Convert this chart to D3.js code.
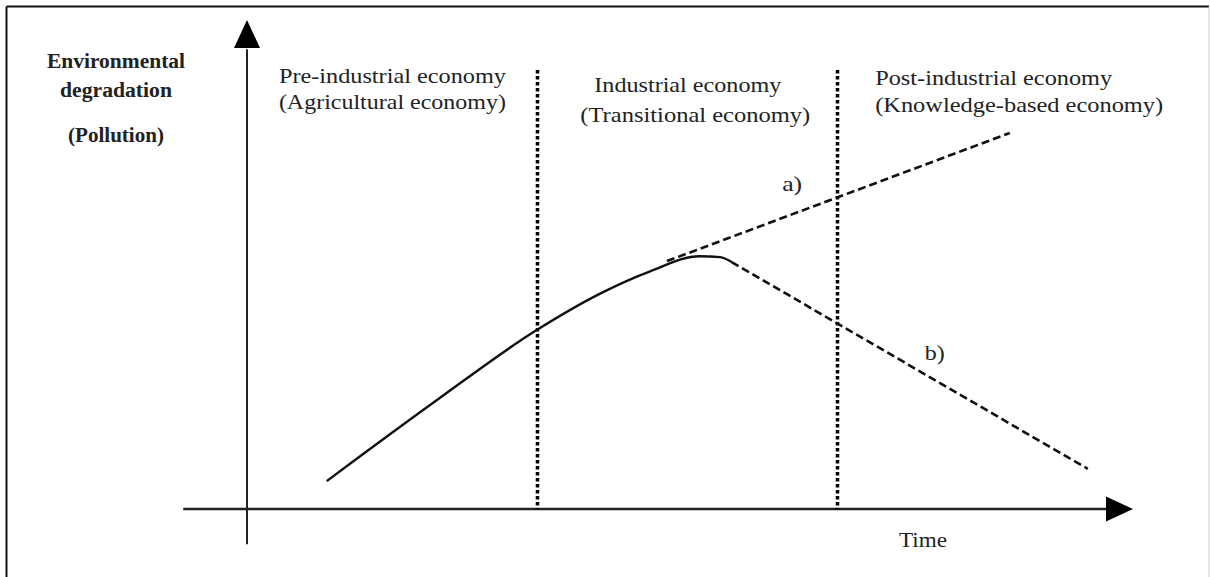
<!DOCTYPE html>
<html>
<head>
<meta charset="utf-8">
<script src="https://cdn.jsdelivr.net/npm/d3@7"></script>
<style>
  body { margin: 0; background: #fff; }
  svg { display: block; }
</style>
</head>
<body>
<svg id="chart" width="1210" height="577"></svg>
<script>
// time (x) and pollution (y) in arbitrary units, 0..10 on both axes
const mainCurve = [
  [0.90, 0.57], [2.07, 2.13], [3.27, 3.66], [3.98, 4.40],
  [4.55, 4.86], [5.11, 5.17], [5.34, 5.15], [5.47, 5.05]
]
const pathA = [[4.74, 5.07], [8.61, 7.69]]
const pathB = [[5.47, 5.05], [9.49, 0.82]]
const phaseBreaks = [3.27, 6.66]
const phaseTop = 8.98

const yLabelLines = ["Environmental", "degradation", "(Pollution)"]
const phaseLabels = [
  { t: 0.36, lines: ["Pre-industrial economy", "(Agricultural economy)"], dx: [0, 0], w: [227, 227] },
  { t: 3.92, lines: ["Industrial economy", "(Transitional economy)"], dx: [0, -14], w: [187, 230] },
  { t: 7.09, lines: ["Post-industrial economy", "(Knowledge-based economy)"], dx: [0, 0], w: [237, 288] }
]
const branchLabels = [
  { name: "a)", t: 6.04, p: 6.50 },
  { name: "b)", t: 7.65, p: 3.05 }
]

const serif = "'Liberation Serif', 'Times New Roman', Tinos, serif"

const svg = d3.select("#chart")

const x = d3.scaleLinear().domain([0, 10]).range([247, 1133])
const y = d3.scaleLinear().domain([0, 10]).range([509, 20])

// frame
svg.append("line").attr("x1", 6.5).attr("y1", 6.5).attr("x2", 6.5).attr("y2", 577)
    .attr("stroke", "#111").attr("stroke-width", 2)
svg.append("line").attr("x1", 6.5).attr("y1", 6.5).attr("x2", 1209).attr("y2", 6.5)
    .attr("stroke", "#111").attr("stroke-width", 2)
svg.append("line").attr("x1", 1209).attr("y1", 6.5).attr("x2", 1209).attr("y2", 577)
    .attr("stroke", "#ccc").attr("stroke-width", 1)

// axes
svg.append("line")
    .attr("x1", x(0)).attr("y1", y(-0.72))
    .attr("x2", x(0)).attr("y2", y(9.4))
    .attr("stroke", "#222").attr("stroke-width", 2)
svg.append("path")
    .attr("d", `M${x(0)},${y(10)} L${x(0) - 13},${y(10) + 28} L${x(0) + 13},${y(10) + 28} Z`)
    .attr("fill", "#000")

svg.append("line")
    .attr("x1", x(-0.72)).attr("y1", y(0))
    .attr("x2", x(9.75)).attr("y2", y(0))
    .attr("stroke", "#222").attr("stroke-width", 2.6)
svg.append("path")
    .attr("d", `M${x(10)},${y(0)} L${x(10) - 27},${y(0) - 12.5} L${x(10) - 27},${y(0) + 12.5} Z`)
    .attr("fill", "#000")

// phase separators
svg.selectAll(".phase-break")
    .data(phaseBreaks)
    .join("line")
    .attr("class", "phase-break")
    .attr("x1", d => Math.round(x(d)) + 0.5).attr("x2", d => Math.round(x(d)) + 0.5)
    .attr("y1", y(phaseTop)).attr("y2", y(0))
    .attr("stroke", "#000")
    .attr("stroke-width", 3.5)
    .attr("stroke-dasharray", "3.5,2.5")

// curves
svg.append("path")
    .datum(mainCurve)
    .attr("d", d3.line().x(d => x(d[0])).y(d => y(d[1])).curve(d3.curveMonotoneX))
    .attr("fill", "none")
    .attr("stroke", "#111")
    .attr("stroke-width", 2.4)

svg.selectAll(".branch")
    .data([pathA, pathB])
    .join("path")
    .attr("class", "branch")
    .attr("d", d3.line().x(d => x(d[0])).y(d => y(d[1])))
    .attr("fill", "none")
    .attr("stroke", "#111")
    .attr("stroke-width", 2.6)
    .attr("stroke-dasharray", "8,4")

// y axis label
let yLabelY = [68, 97, 142]
let yLabelW = [138, 112, 96]
yLabelLines.forEach(function(s, i) {
    svg.append("text")
        .attr("x", 116)
        .attr("y", yLabelY[i])
        .attr("text-anchor", "middle")
        .attr("font-family", serif)
        .attr("font-size", "20px")
        .attr("font-weight", "bold")
        .attr("fill", "#222")
        .attr("textLength", yLabelW[i])
        .attr("lengthAdjust", "spacingAndGlyphs")
        .text(s)
})

// phase labels
let lineY = [[83, 109], [92, 122], [85, 112]]
phaseLabels.forEach(function(ph, k) {
    ph.lines.forEach(function(s, i) {
        svg.append("text")
            .attr("x", x(ph.t) + ph.dx[i])
            .attr("y", lineY[k][i])
            .attr("font-family", serif)
            .attr("font-size", "21px")
            .attr("fill", "#222")
            .attr("textLength", ph.w[i])
            .attr("lengthAdjust", "spacingAndGlyphs")
            .text(s)
    })
})

svg.selectAll(".branch-label")
    .data(branchLabels)
    .join("text")
    .attr("class", "branch-label")
    .attr("x", d => x(d.t))
    .attr("y", d => y(d.p))
    .attr("font-family", serif)
    .attr("font-size", "21px")
    .attr("fill", "#222")
    .attr("textLength", 20)
    .attr("lengthAdjust", "spacingAndGlyphs")
    .text(d => d.name)

svg.append("text")
    .attr("x", 899)
    .attr("y", 547)
    .attr("font-family", serif)
    .attr("font-size", "20px")
    .attr("fill", "#222")
    .attr("textLength", 48)
    .attr("lengthAdjust", "spacingAndGlyphs")
    .text("Time")
</script>
</body>
</html>
